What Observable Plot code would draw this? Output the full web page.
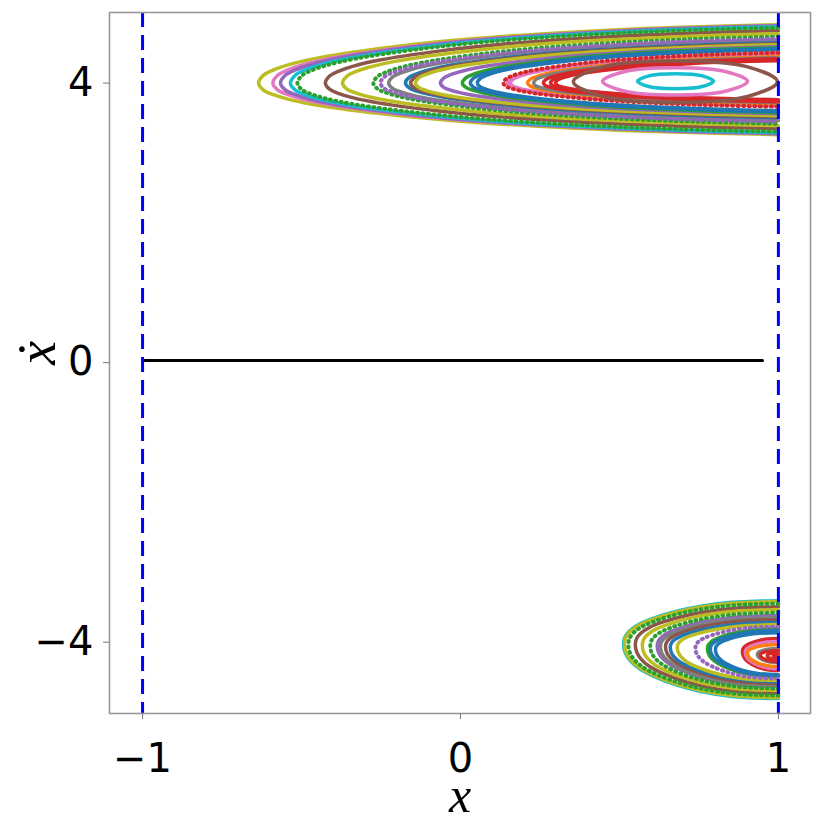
<!DOCTYPE html>
<html><head><meta charset="utf-8">
<script src="https://cdn.jsdelivr.net/npm/d3@7"></script>
<script src="https://cdn.jsdelivr.net/npm/@observablehq/plot@0.6"></script>
<style>body{margin:0;background:#fff}#chart{width:830px;height:830px}</style>
</head><body><div id="chart"></div>
<script>
// axes
const xTicks = [-1, 0, 1];
const yTicks = [-4, 0, 4];
const xDomain = [-1.104, 1.101];
const yDomain = [-5.02, 5.01];
const wallX = [-1, 1];
const zeroLineX = [-1, 0.95];
const zeroLineY = [0.03, 0.03];

// tab10 palette
const tab = {blue:"#1f77b4", orange:"#ff7f0e", green:"#2ca02c", red:"#d62728", purple:"#9467bd",
  brown:"#8c564b", pink:"#e377c2", gray:"#7f7f7f", olive:"#bcbd22", cyan:"#17becf"};

// upper cluster (moving right, tip at left, cut by wall at x = 1)
const upColor = ["olive","pink","purple","cyan","green","brown","olive","green","purple","gray","blue","brown","olive","purple","green","blue","blue","red","pink","pink","orange","gray","red","red","red"];
const upTipX  = [-0.635,-0.590,-0.566,-0.535,-0.513,-0.425,-0.371,-0.274,-0.252,-0.226,-0.173,-0.157,-0.142,-0.063,0.006,0.031,0.053,0.135,0.148,0.157,0.211,0.230,0.261,0.283,0.299];
const upTipY  = [4.0,4.0,4.0,4.0,4.0,4.0,4.0,4.0,4.0,4.0,4.0,4.0,4.0,4.0,4.0,4.0,4.0,4.0,4.0,4.0,4.0,4.0,4.0,4.0,4.0];
const upTop   = [4.836,4.821,4.821,4.807,4.793,4.750,4.707,4.664,4.635,4.621,4.578,4.564,4.549,4.521,4.506,4.492,4.478,4.435,4.421,4.406,4.378,4.363,4.349,4.335,4.320];
const upBot   = [3.262,3.276,3.276,3.290,3.305,3.348,3.391,3.419,3.448,3.462,3.505,3.519,3.534,3.562,3.577,3.591,3.605,3.662,3.677,3.691,3.705,3.720,3.734,3.748,3.763];
const upDot   = [0,0,0,0,1,0,0,1,1,0,0,0,0,0,0,0,0,1,0,0,0,0,0,0,0];
const upProfileT = [0, 0.01, 0.03, 0.06, 0.12, 0.25, 0.4, 0.6, 0.8, 1];
const upProfileS = [0, 0.14, 0.23, 0.32, 0.44, 0.61, 0.75, 0.87, 0.95, 1];

// closed loops inside the upper island
const loopColor = ["brown","pink","cyan"];
const loopX = [
  [0.997,0.903,0.676,0.449,0.355,0.449,0.676,0.903],
  [0.903,0.836,0.675,0.514,0.447,0.514,0.675,0.836],
  [0.796,0.761,0.6765,0.592,0.557,0.592,0.6765,0.761]];
const loopY = [
  [4.02,4.232,4.316,4.232,4.02,3.808,3.724,3.808],
  [4.025,4.163,4.22,4.163,4.025,3.887,3.83,3.887],
  [4.027,4.103,4.134,4.103,4.027,3.951,3.92,3.951]];

// lower cluster (moving left, tip at right)
const loColor = ["cyan","olive","green","brown","olive","green","purple","gray","brown","blue","olive","purple","green","blue","blue","red","pink","orange","gray","red","red","red"];
const loTipX  = [0.513,0.516,0.528,0.550,0.572,0.597,0.619,0.629,0.645,0.660,0.682,0.739,0.777,0.786,0.802,0.887,0.896,0.903,0.934,0.943,0.965,0.984];
const loTipY  = [-4.02,-4.02,-4.03,-4.03,-4.04,-4.05,-4.05,-4.06,-4.06,-4.07,-4.07,-4.08,-4.09,-4.09,-4.10,-4.13,-4.14,-4.15,-4.17,-4.18,-4.19,-4.20];
const loTop   = [-3.405,-3.419,-3.448,-3.491,-3.534,-3.577,-3.619,-3.648,-3.677,-3.719,-3.748,-3.777,-3.805,-3.834,-3.863,-3.948,-3.991,-4.034,-4.092,-4.120,-4.149,-4.177];
const loBot   = [-4.807,-4.793,-4.764,-4.735,-4.692,-4.664,-4.635,-4.621,-4.592,-4.564,-4.549,-4.521,-4.492,-4.478,-4.464,-4.406,-4.378,-4.349,-4.292,-4.278,-4.249,-4.220];
const loDot   = [0,0,1,0,0,1,0,0,0,0,0,1,0,0,0,0,0,0,0,0,0,0];
const loProfileT = [0, 0.01, 0.04, 0.1, 0.2, 0.35, 0.5, 0.7, 1];
const loProfileS = [0, 0.16, 0.30, 0.45, 0.60, 0.76, 0.87, 0.96, 1];

// build rows for the library
function openOrbits(prefix, colors, tipX, tipY, top, bot, dots, T, S) {
  const rows = [];
  colors.forEach((c, i) => {
    const id = prefix + i;
    const n = T.length;
    for (let k = n - 1; k >= 1; k--)
      rows.push({id, c: tab[c], dot: dots[i], x: tipX[i] + T[k] * (1 - tipX[i]), y: tipY[i] + S[k] * (top[i] - tipY[i])});
    rows.push({id, c: tab[c], dot: dots[i], x: tipX[i], y: tipY[i]});
    for (let k = 1; k < n; k++)
      rows.push({id, c: tab[c], dot: dots[i], x: tipX[i] + T[k] * (1 - tipX[i]), y: tipY[i] - S[k] * (tipY[i] - bot[i])});
  });
  return rows;
}
const upRows = openOrbits("u", upColor, upTipX, upTipY, upTop, upBot, upDot, upProfileT, upProfileS);
const loRows = openOrbits("l", loColor, loTipX, loTipY, loTop, loBot, loDot, loProfileT, loProfileS);
const orbitRows = upRows.concat(loRows);
const loopRows = [];
loopColor.forEach((c, i) => loopX[i].forEach((x, k) => loopRows.push({id: "e" + i, c: tab[c], x, y: loopY[i][k]})));

const zeroRows = zeroLineX.map((x, i) => ({x, y: zeroLineY[i]}));
const fmt = d => (d < 0 ? "\u2212" + Math.abs(d) : String(d));

const chart = Plot.plot({
  width: 830, height: 830,
  marginLeft: 109, marginRight: 20, marginTop: 12, marginBottom: 117,
  style: {fontFamily: "DejaVu Sans", background: "#fff"},
  x: {domain: xDomain},
  y: {domain: yDomain},
  color: {type: "identity"},
  marks: [
    Plot.line(orbitRows.filter(d => !d.dot), {x: "x", y: "y", z: "id", stroke: "c", strokeWidth: 3.5, curve: "catmull-rom"}),
    Plot.line(orbitRows.filter(d => d.dot), {x: "x", y: "y", z: "id", stroke: "c", strokeWidth: 4, strokeDasharray: "1,4.5", strokeLinecap: "round", curve: "catmull-rom"}),
    Plot.line(loopRows, {x: "x", y: "y", z: "id", stroke: "c", strokeWidth: 3.5, curve: "catmull-rom-closed"}),
    Plot.line(zeroRows, {x: "x", y: "y", stroke: "black", strokeWidth: 3}),
    Plot.ruleX(wallX, {stroke: "blue", strokeWidth: 3, strokeDasharray: "15,8"}),
    Plot.frame({stroke: "#9a9a9a", strokeWidth: 1.6}),
    Plot.axisX(xTicks, {tickSize: 6, tickPadding: 24, fontSize: 40, tickFormat: fmt, stroke: "#777", fill: "black", label: null}),
    Plot.axisY(yTicks, {tickSize: 6, tickPadding: 10, fontSize: 40, tickFormat: fmt, stroke: "#777", fill: "black", label: null}),
    Plot.text(["x"], {frameAnchor: "bottom", dy: 98, fontSize: 50, fontStyle: "italic", fontFamily: "Liberation Serif", fill: "black"}),
    Plot.text(["ẋ"], {frameAnchor: "left", dx: -72, dy: 2, rotate: -90, fontSize: 54, fontStyle: "italic", fontFamily: "Liberation Serif", fill: "black"})
  ]
});
document.getElementById("chart").appendChild(chart);
</script>
</body></html>
